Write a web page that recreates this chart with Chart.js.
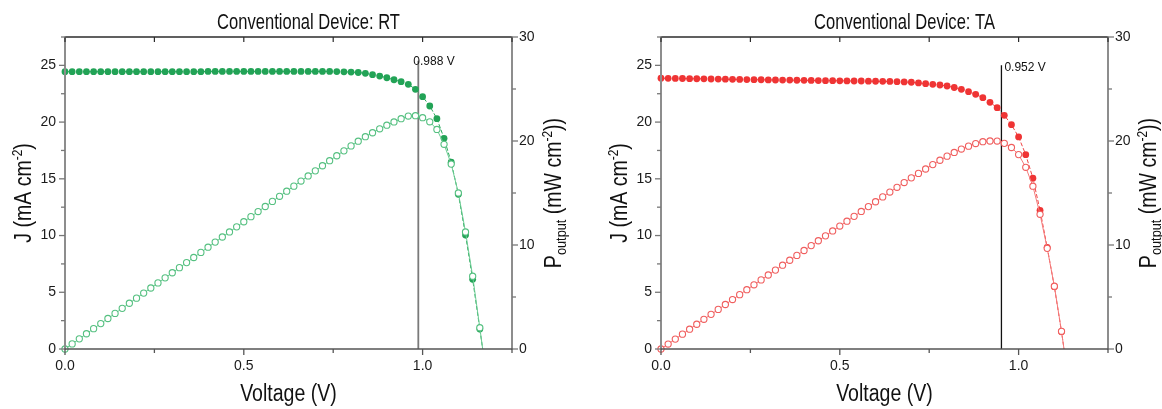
<!DOCTYPE html>
<html>
<head>
<meta charset="utf-8">
<script src="https://cdn.jsdelivr.net/npm/chart.js@4.4.1/dist/chart.umd.min.js"></script>
<style>
  html, body { margin: 0; padding: 0; background: #fff; }
  #wrap { position: relative; width: 1162px; height: 409px; overflow: hidden; }
  .panel { position: absolute; top: 0; width: 581px; height: 409px; }
</style>
</head>
<body>
<div id="wrap">
  <div class="panel" style="left:0"><canvas id="rt" width="581" height="409"></canvas></div>
  <div class="panel" style="left:581px"><canvas id="ta" width="581" height="409"></canvas></div>
</div>
<script>
// ---- measured J–V sweeps (V in volts, J in mA cm^-2, P in mW cm^-2) ----
const voltageRT = [0.00,0.02,0.04,0.06,0.08,0.10,0.12,0.14,0.16,0.18,0.20,0.22,0.24,0.26,0.28,0.30,0.32,0.34,0.36,0.38,
  0.40,0.42,0.44,0.46,0.48,0.50,0.52,0.54,0.56,0.58,0.60,0.62,0.64,0.66,0.68,0.70,0.72,0.74,0.76,0.78,
  0.80,0.82,0.84,0.86,0.88,0.90,0.92,0.94,0.96,0.98,1.00,1.02,1.04,1.06,1.08,1.10,1.12,1.14,1.16];
const currentRT = [24.44,24.44,24.44,24.44,24.44,24.44,24.44,24.44,24.44,24.44,24.44,24.44,24.44,24.44,24.44,24.44,24.44,24.44,24.44,24.44,
  24.47,24.47,24.47,24.47,24.47,24.47,24.47,24.47,24.47,24.47,24.47,24.47,24.47,24.47,24.47,24.47,24.47,24.47,24.45,24.43,
  24.41,24.37,24.30,24.18,24.06,23.91,23.73,23.56,23.33,22.89,22.24,21.42,20.30,18.57,16.46,13.64,10.05,6.14,1.76];
const powerRT = [0,0.489,0.978,1.466,1.955,2.444,2.933,3.422,3.910,4.399,4.888,5.377,5.866,6.354,6.843,7.332,7.821,8.310,8.798,9.287,
  9.788,10.277,10.767,11.256,11.746,12.235,12.724,13.214,13.703,14.193,14.682,15.171,15.661,16.150,16.640,17.129,17.618,18.108,18.582,19.055,
  19.528,19.983,20.412,20.795,21.173,21.519,21.832,22.146,22.397,22.432,22.240,21.848,21.112,19.684,17.777,15.004,11.256,7.000,2.042];
const vocRT = 1.168;
const mppRT = 0.988;
const mppLabelRT = '0.988 V';

const voltageTA = [0.00,0.02,0.04,0.06,0.08,0.10,0.12,0.14,0.16,0.18,0.20,0.22,0.24,0.26,0.28,0.30,0.32,0.34,0.36,0.38,
  0.40,0.42,0.44,0.46,0.48,0.50,0.52,0.54,0.56,0.58,0.60,0.62,0.64,0.66,0.68,0.70,0.72,0.74,0.76,0.78,
  0.80,0.82,0.84,0.86,0.88,0.90,0.92,0.94,0.96,0.98,1.00,1.02,1.04,1.06,1.08,1.10,1.12];
const currentTA = [23.87,23.86,23.85,23.84,23.83,23.82,23.81,23.80,23.79,23.78,23.77,23.76,23.75,23.74,23.73,23.72,23.71,23.70,23.70,23.69,
  23.68,23.67,23.66,23.65,23.65,23.64,23.63,23.62,23.62,23.61,23.60,23.59,23.58,23.56,23.54,23.51,23.45,23.39,23.33,23.27,
  23.18,23.05,22.89,22.68,22.45,22.15,21.74,21.27,20.60,19.77,18.69,17.13,15.05,12.22,8.96,5.49,1.52];
const powerTA = [0,0.477,0.954,1.430,1.906,2.382,2.857,3.332,3.806,4.280,4.754,5.227,5.700,6.172,6.644,7.116,7.587,8.058,8.532,9.002,
  9.472,9.941,10.410,10.879,11.352,11.820,12.288,12.755,13.227,13.694,14.160,14.626,15.091,15.550,16.007,16.457,16.884,17.309,17.731,18.151,
  18.544,18.901,19.228,19.505,19.756,19.935,20.001,19.994,19.776,19.375,18.690,17.473,15.652,12.953,9.677,6.039,1.702];
const vocTA = 1.127;
const mppTA = 0.952;
const mppLabelTA = '0.952 V';

// axis ranges and tick positions
const voltageRange = [0, 1.25];
const currentRange = [0, 27.5];
const powerRange = [0, 30];
const voltageTicks = [0, 0.25, 0.5, 0.75, 1.0, 1.25];
const currentTicks = [0, 2.5, 5, 7.5, 10, 12.5, 15, 17.5, 20, 22.5, 25, 27.5];
const powerTicks = [0, 5, 10, 15, 20, 25, 30];

const SANS = "'Liberation Sans', Arial, sans-serif";
// condensed look for the titles: glyphs are squeezed horizontally
const SQUEEZE_TITLE = 0.77;
const SQUEEZE_AXIS = 0.85;

function drawRich(ctx, parts, cx, cy, angle, squeeze) {
  ctx.save();
  ctx.translate(cx, cy);
  ctx.rotate(angle);
  ctx.scale(squeeze, 1);
  ctx.textAlign = 'left';
  ctx.textBaseline = 'alphabetic';
  ctx.fillStyle = '#111';
  let total = 0;
  parts.forEach(p => { ctx.font = p.size + 'px ' + SANS; p.w = ctx.measureText(p.t).width; total += p.w; });
  let x = -total / 2;
  parts.forEach(p => { ctx.font = p.size + 'px ' + SANS; ctx.fillText(p.t, x, p.dy || 0); x += p.w; });
  ctx.restore();
}

function seg(ctx, x1, y1, x2, y2, color, w) {
  ctx.beginPath();
  ctx.strokeStyle = color;
  ctx.lineWidth = w;
  ctx.moveTo(x1, y1);
  ctx.lineTo(x2, y2);
  ctx.stroke();
}

// axis frame, tick marks, titles and the max-power marker label
const framePlugin = {
  id: 'frame',
  afterDraw(chart, args, o) {
    const { ctx, chartArea: a, scales } = chart;
    const sx = scales.x, sy = scales.y, sp = scales.yP;
    ctx.save();
    // axis lines
    seg(ctx, a.left, a.top, a.right, a.top, '#2b2b2b', 1.3);
    seg(ctx, a.left, a.top - 0.6, a.left, a.bottom + 1, '#8d8d8d', 2);
    seg(ctx, a.right, a.top - 0.6, a.right, a.bottom + 1, '#8d8d8d', 2);
    seg(ctx, a.left - 1, a.bottom, a.right + 1, a.bottom, '#555', 1.6);
    // x ticks (bottom outward, top inward)
    voltageTicks.forEach(v => {
      const px = sx.getPixelForValue(v);
      const major = Math.abs(v / 0.5 - Math.round(v / 0.5)) < 1e-6;
      seg(ctx, px, a.bottom, px, a.bottom + (major ? 6 : 4), '#555', 1.3);
      seg(ctx, px, a.top, px, a.top + 5, '#2b2b2b', 1.2);
    });
    // left ticks
    currentTicks.forEach(v => {
      const py = sy.getPixelForValue(v);
      const major = v % 5 === 0;
      seg(ctx, a.left, py, a.left - (major ? 6 : 4), py, '#777', 1.3);
    });
    // right ticks
    powerTicks.forEach(v => {
      const py = sp.getPixelForValue(v);
      const major = v % 10 === 0;
      seg(ctx, a.right, py, a.right + (major ? 6 : 4), py, '#777', 1.3);
    });
    const cx = (a.left + a.right) / 2;
    const cy = (a.top + a.bottom) / 2;
    // chart title
    drawRich(ctx, [{ t: o.title, size: 21.5 }], cx + 20, 29, 0, SQUEEZE_TITLE);
    // x axis title
    drawRich(ctx, [{ t: 'Voltage (V)', size: 23 }], cx, 401, 0, SQUEEZE_AXIS);
    // y axis titles
    drawRich(ctx, [
      { t: 'J (mA cm', size: 23 },
      { t: '-2', size: 14, dy: -9 },
      { t: ')', size: 23 }
    ], a.left - o.jGap, cy, -Math.PI / 2, SQUEEZE_AXIS);
    drawRich(ctx, [
      { t: 'P', size: 23 },
      { t: 'output', size: 15, dy: 5 },
      { t: ' (mW cm', size: 23 },
      { t: '-2', size: 14, dy: -9 },
      { t: '))', size: 23 }
    ], a.right + o.pGap, cy, -Math.PI / 2, SQUEEZE_AXIS);
    // max-power voltage label
    ctx.font = '12px ' + SANS;
    ctx.textAlign = 'left';
    ctx.textBaseline = 'alphabetic';
    ctx.fillStyle = '#111';
    ctx.fillText(o.mppLabel, sx.getPixelForValue(o.mpp) + o.labelDx, sy.getPixelForValue(o.lineTop) + o.labelDy);
    ctx.restore();
  }
};

function makeChart(id, cfg) {
  const nJ = cfg.voltage.length;
  const jPoints = cfg.voltage.map((v, i) => ({ x: v, y: cfg.current[i] })).concat([{ x: cfg.voc, y: 0 }]);
  const pPoints = cfg.voltage.map((v, i) => ({ x: v, y: cfg.power[i] })).concat([{ x: cfg.voc, y: 0 }]);
  const radiusJ = c => (c.dataIndex >= nJ ? 0 : 3.4);
  const radiusP = c => (c.dataIndex >= nJ ? 0 : 3.1);
  return new Chart(document.getElementById(id), {
    type: 'line',
    data: {
      datasets: [
        {
          label: 'P',
          data: pPoints,
          yAxisID: 'yP',
          order: 0,
          borderColor: cfg.pLine,
          borderWidth: 1,
          pointRadius: radiusP,
          pointBorderWidth: 1.1,
          pointBorderColor: cfg.pMark,
          pointBackgroundColor: '#ffffff',
          clip: false
        },
        {
          label: 'J',
          data: jPoints,
          yAxisID: 'y',
          order: 1,
          borderColor: cfg.jLine,
          borderWidth: 1,
          borderDash: [4, 2],
          pointRadius: radiusJ,
          pointBorderWidth: 0,
          pointBackgroundColor: cfg.jMark,
          clip: false
        },
        {
          label: 'Vmpp',
          data: [{ x: cfg.mpp, y: 0 }, { x: cfg.mpp, y: cfg.lineTop }],
          yAxisID: 'y',
          order: 2,
          borderColor: cfg.vColor,
          borderWidth: cfg.vWidth,
          pointRadius: 0,
          clip: false
        }
      ]
    },
    options: {
      responsive: false,
      animation: false,
      events: [],
      layout: { padding: { top: 37, left: 0, right: 0, bottom: 0 } },
      plugins: {
        legend: { display: false },
        tooltip: { enabled: false },
        frame: {
          title: cfg.title, mpp: cfg.mpp, mppLabel: cfg.mppLabel, lineTop: cfg.lineTop,
          labelDx: cfg.labelDx, labelDy: cfg.labelDy, jGap: cfg.jGap, pGap: cfg.pGap
        }
      },
      scales: {
        x: {
          type: 'linear', position: 'bottom',
          min: voltageRange[0], max: voltageRange[1],
          grid: { display: false, drawTicks: false }, border: { display: false },
          ticks: { stepSize: 0.5, includeBounds: false, padding: 9, color: '#1a1a1a',
                   font: { family: SANS, size: 14 }, callback: v => Number(v).toFixed(1) },
          afterFit: s => { s.height = 60; }
        },
        y: {
          type: 'linear', position: 'left',
          min: currentRange[0], max: currentRange[1],
          grid: { display: false, drawTicks: false }, border: { display: false },
          ticks: { stepSize: 5, includeBounds: false, padding: 9, color: '#1a1a1a',
                   font: { family: SANS, size: 14 } },
          afterFit: s => { s.width = cfg.leftW; }
        },
        yP: {
          type: 'linear', position: 'right',
          min: powerRange[0], max: powerRange[1],
          grid: { display: false, drawTicks: false }, border: { display: false },
          ticks: { stepSize: 10, includeBounds: false, padding: 7, color: '#1a1a1a',
                   font: { family: SANS, size: 14 } },
          afterFit: s => { s.width = cfg.rightW; }
        }
      }
    },
    plugins: [framePlugin]
  });
}

makeChart('rt', {
  title: 'Conventional Device: RT',
  voltage: voltageRT, current: currentRT, power: powerRT, voc: vocRT,
  mpp: mppRT, mppLabel: mppLabelRT, lineTop: 25.4,
  jMark: '#22a356', jLine: '#2aa85c', pMark: '#55c080', pLine: '#6ccb93',
  vColor: '#7a7a7a', vWidth: 1.8, labelDx: -5, labelDy: 4,
  leftW: 65, rightW: 69, jGap: 34, pGap: 49
});

makeChart('ta', {
  title: 'Conventional Device: TA',
  voltage: voltageTA, current: currentTA, power: powerTA, voc: vocTA,
  mpp: mppTA, mppLabel: mppLabelTA, lineTop: 25.0,
  jMark: '#ef3434', jLine: '#f04545', pMark: '#f05e5e', pLine: '#f47a7a',
  vColor: '#111111', vWidth: 1.3, labelDx: 3, labelDy: 6,
  leftW: 80, rightW: 54, jGap: 34, pGap: 48
});
</script>
</body>
</html>
